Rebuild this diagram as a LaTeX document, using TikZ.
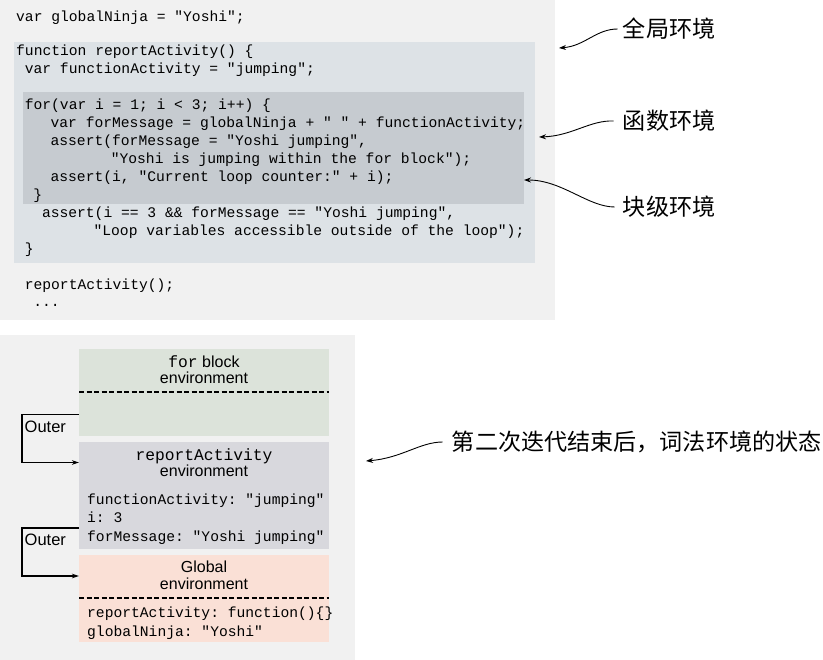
\documentclass[tikz,border=0pt]{standalone}
\usepackage{fontspec}
\setmainfont{Liberation Sans}
\setsansfont{Liberation Sans}
\setmonofont{Liberation Mono}
\newfontfamily\cjk{Noto Sans CJK SC}
\usetikzlibrary{arrows.meta}
\definecolor{panel}{RGB}{241,241,241}
\definecolor{fnbg}{RGB}{221,226,230}
\definecolor{forbg}{RGB}{198,203,208}
\definecolor{greenbg}{RGB}{220,227,218}
\definecolor{graybg}{RGB}{216,216,221}
\definecolor{peachbg}{RGB}{250,224,214}
\tikzset{
  code/.style={anchor=base west,inner sep=0pt,font=\ttfamily\fontsize{14.65}{17}\selectfont},
  hdmono/.style={anchor=base,inner sep=0pt,font=\ttfamily\fontsize{16.3}{18}\selectfont},
  hdsans/.style={anchor=base,inner sep=0pt,font=\sffamily\fontsize{16}{18}\selectfont},
  cjklab/.style={anchor=west,inner sep=0pt,font=\cjk\fontsize{23.1}{25}\selectfont},
  outerlab/.style={anchor=west,inner sep=0pt,font=\sffamily\fontsize{16.5}{18}\selectfont},
  envbox/.style={draw=none,anchor=north west,inner sep=0pt,minimum width=250pt},
  carr/.style={-{Stealth[length=7pt,width=5pt]},line width=0.9pt},
  oarr/.style={-{Stealth[length=7pt,width=4.5pt]},line width=1.1pt},
  dline/.style={line width=1.1pt,dash pattern=on 5pt off 2.5pt},
}
\begin{document}
\begin{tikzpicture}[x=1pt,y=-1pt]
\useasboundingbox (0,0) rectangle (823,660);
% top panel
\node[envbox,fill=panel,minimum width=555pt,minimum height=320pt] (toppanel) at (0,0) {};
\node[envbox,fill=fnbg,minimum width=521pt,minimum height=221pt] (fnbox) at (14,42) {};
\node[envbox,fill=forbg,minimum width=501pt,minimum height=112pt] (forbox) at (23,92) {};
% code
\node[code] (c1) at (16,21.5) {var globalNinja = "Yoshi";};
\node[code] (c2) at (16,56) {function reportActivity() \{};
\node[code] (c3) at ({16+1*8.6},74) {var functionActivity = "jumping";};
\node[code] (c4) at ({16+1*8.6},109.5) {for(var i = 1; i < 3; i++) \{};
\node[code] (c5) at ({16+4*8.6},127.5) {var forMessage = globalNinja + " " + functionActivity;};
\node[code] (c6) at ({16+4*8.6},145.5) {assert(forMessage = "Yoshi jumping",};
\node[code] (c7) at ({16+11*8.6},163.5) {"Yoshi is jumping within the for block");};
\node[code] (c8) at ({16+4*8.6},182) {assert(i, "Current loop counter:" + i);};
\node[code] (c9) at ({16+2*8.6},200) {\}};
\node[code] (c10) at ({16+3*8.6},218) {assert(i == 3 \&\& forMessage == "Yoshi jumping",};
\node[code] (c11) at ({16+9*8.6},236) {"Loop variables accessible outside of the loop");};
\node[code] (c12) at ({16+1*8.6},254) {\}};
\node[code] (c13) at ({16+1*8.6},290) {reportActivity();};
\node[code] (c14) at ({16+2*8.6},306.5) {...};
% right labels
\node[cjklab] (lglobal) at (622.7,29) {全局环境};
\node[cjklab] (lfunc) at (622.7,121) {函数环境};
\node[cjklab] (lblock) at (622.7,207) {块级环境};
\coordinate (t1) at (559,48);
\coordinate (t2) at (539,137);
\coordinate (t3) at (524,180);
\draw[carr] ([xshift=-5pt]lglobal.west) .. controls (596,29) and (585,46) .. (t1);
\draw[carr] ([xshift=-9pt]lfunc.west) .. controls (590,120) and (572,136) .. (t2);
\draw[carr] ([xshift=-8pt]lblock.west) .. controls (588,207) and (562,180) .. (t3);
% bottom panel
\node[envbox,fill=panel,minimum width=355pt,minimum height=325pt] (botpanel) at (0,335) {};
\node[envbox,fill=greenbg,minimum height=87pt] (forenv) at (79,349) {};
\node[envbox,fill=graybg,minimum height=107pt] (raenv) at (79,442) {};
\node[envbox,fill=peachbg,minimum height=87pt] (glenv) at (79,555) {};
% for block env
\node[anchor=base,inner sep=0pt] (forhd) at (204,367.5) {\ttfamily\fontsize{16.3}{18}\selectfont for\sffamily\fontsize{16}{18}\selectfont{} block};
\node[hdsans] (forhd2) at (204,383.5) {environment};
\draw[dline] (forenv.west|-0,392) -- (forenv.east|-0,392);
% reportActivity env
\node[hdmono] (rahd) at (204,461) {reportActivity};
\node[hdsans] (rahd2) at (204,476.5) {environment};
\node[code] (ra1) at (87,504) {functionActivity: "jumping"};
\node[code] (ra2) at (87,522.5) {i: 3};
\node[code] (ra3) at (87,541) {forMessage: "Yoshi jumping"};
% global env
\node[hdsans] (glhd) at (204,572.5) {Global};
\node[hdsans] (glhd2) at (204,589.5) {environment};
\draw[dline] (glenv.west|-0,598) -- (glenv.east|-0,598);
\node[code] (gl1) at (87,617.5) {reportActivity: function()\{\}};
\node[code] (gl2) at (87,636) {globalNinja: "Yoshi"};
% outer connectors
\coordinate (o1s) at (79,414.5);
\coordinate (o1e) at (79,462.5);
\draw[oarr] (o1s) -- (22,414.5) |- (o1e);
\node[outerlab] (out1) at (24.5,427) {Outer};
\coordinate (o2s) at (79,528);
\coordinate (o2e) at (79,576);
\draw[oarr] (o2s) -- (22,528) |- (o2e);
\node[outerlab] (out2) at (24.5,540) {Outer};
% bottom label
\node[cjklab] (lstate) at (451.7,442) {第二次迭代结束后，词法环境的状态};
\coordinate (t4) at (366,461);
\draw[carr] ([xshift=-9pt]lstate.west) .. controls (420,442) and (402,458) .. (t4);
\end{tikzpicture}
\end{document}
